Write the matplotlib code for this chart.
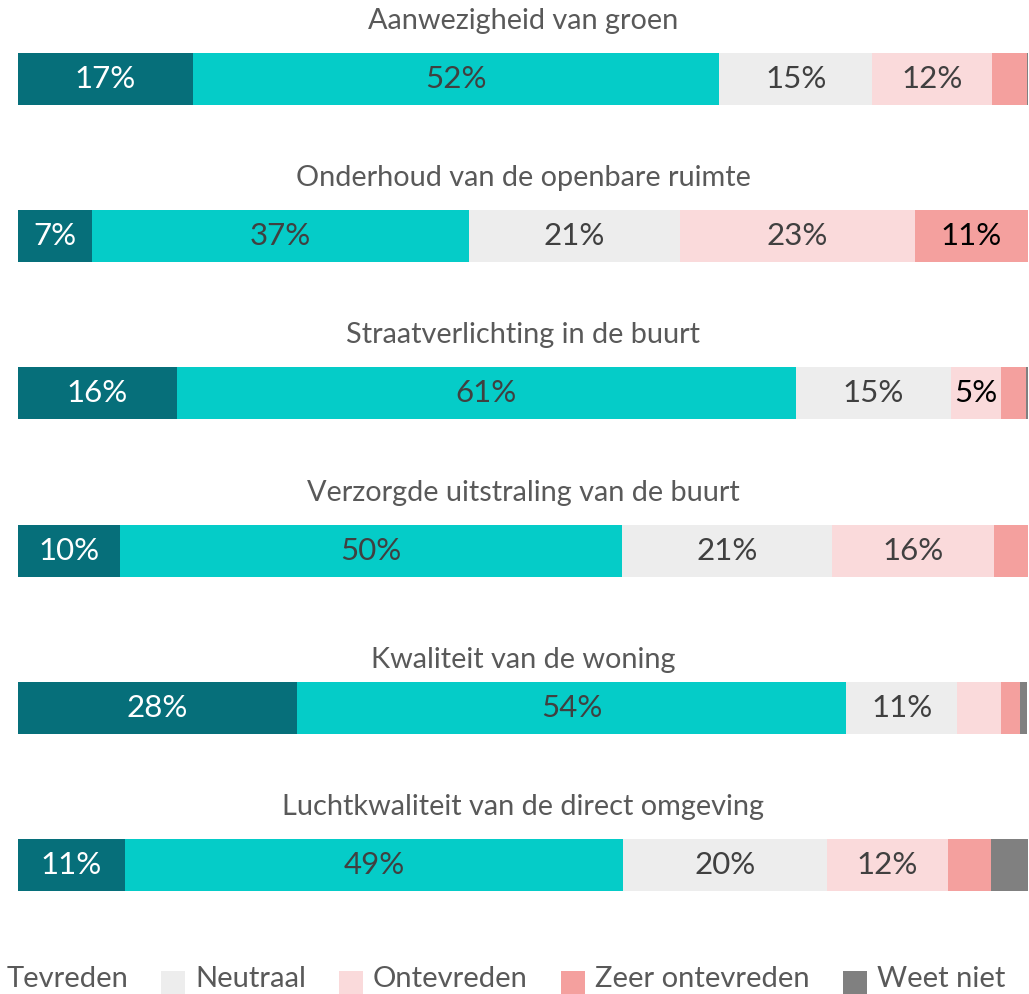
import matplotlib
matplotlib.use("Agg")
import matplotlib.pyplot as plt
from matplotlib.patches import Rectangle

plt.rcParams['font.family'] = ['Lato', 'DejaVu Sans']

items = [
    "Aanwezigheid van groen",
    "Onderhoud van de openbare ruimte",
    "Straatverlichting in de buurt",
    "Verzorgde uitstraling van de buurt",
    "Kwaliteit van de woning",
    "Luchtkwaliteit van de direct omgeving",
]
categories = ["Zeer tevreden", "Tevreden", "Neutraal", "Ontevreden", "Zeer ontevreden", "Weet niet"]
zeer_tevreden   = [17.3, 7.3, 15.7, 10.1, 27.6, 10.6]
tevreden        = [52.1, 37.4, 61.3, 49.7, 54.4, 49.3]
neutraal        = [15.2, 20.8, 15.4, 20.8, 11.0, 20.2]
ontevreden      = [11.8, 23.3, 4.9, 16.0, 4.3, 12.0]
zeer_ontevreden = [3.5, 11.2, 2.5, 3.4, 1.9, 4.2]
weet_niet       = [0.1, 0.1, 0.2, 0.0, 0.7, 3.8]

series = [zeer_tevreden, tevreden, neutraal, ontevreden, zeer_ontevreden, weet_niet]
colors = ["#066F7A", "#05CCC8", "#EDEDED", "#FADADB", "#F4A09E", "#808080"]
label_colors = ["white", "#404040", "#404040", "#404040", "#000000", "#404040"]
label_overrides = {(2, 3): "#000000"}

W, H = 1029, 994
fig = plt.figure(figsize=(W / 100, H / 100), dpi=100)
ax = fig.add_axes([18 / W, 0, 1010 / W, 1])
row_px = 157.2
first_px = 79
ax.set_xlim(0, 100)
ax.set_ylim((H - first_px) / row_px, -first_px / row_px)
ax.axis('off')

bar_h = 52 / row_px
n = len(items)
lefts = [0.0] * n
for ci, vals in enumerate(series):
    ax.barh(range(n), vals, left=lefts, height=bar_h, color=colors[ci],
            edgecolor='none', linewidth=0)
    for i, v in enumerate(vals):
        if round(v) >= 5:
            c = label_overrides.get((i, ci), label_colors[ci])
            ax.text(lefts[i] + v / 2, i, f"{round(v)}%", ha='center', va='center',
                    fontsize=22.5, color=c)
    lefts = [l + v for l, v in zip(lefts, vals)]

title_gap = [50, 50, 50, 50, 40, 50]
for i, t in enumerate(items):
    ax.text(50, i - title_gap[i] / row_px, t, ha='center', va='baseline',
            fontsize=20.8, color='#595959')

# legend drawn manually, anchored at the right, overflowing on the left
renderer = fig.canvas.get_renderer()
cursor = 1005
baseline = 987
for ci in range(len(categories) - 1, -1, -1):
    txt = fig.text(cursor / W, 1 - baseline / H, categories[ci], ha='right',
                   va='baseline', fontsize=21, color='#595959')
    bb = txt.get_window_extent(renderer=renderer)
    tw = bb.width
    pr = cursor - tw - 10
    pl = pr - 24
    fig.patches.append(Rectangle((pl / W, 1 - 998 / H), 24 / W, 27 / H,
                                 transform=fig.transFigure, facecolor=colors[ci],
                                 edgecolor='none'))
    cursor = pl - 33

fig.savefig("out.png", dpi=100)
